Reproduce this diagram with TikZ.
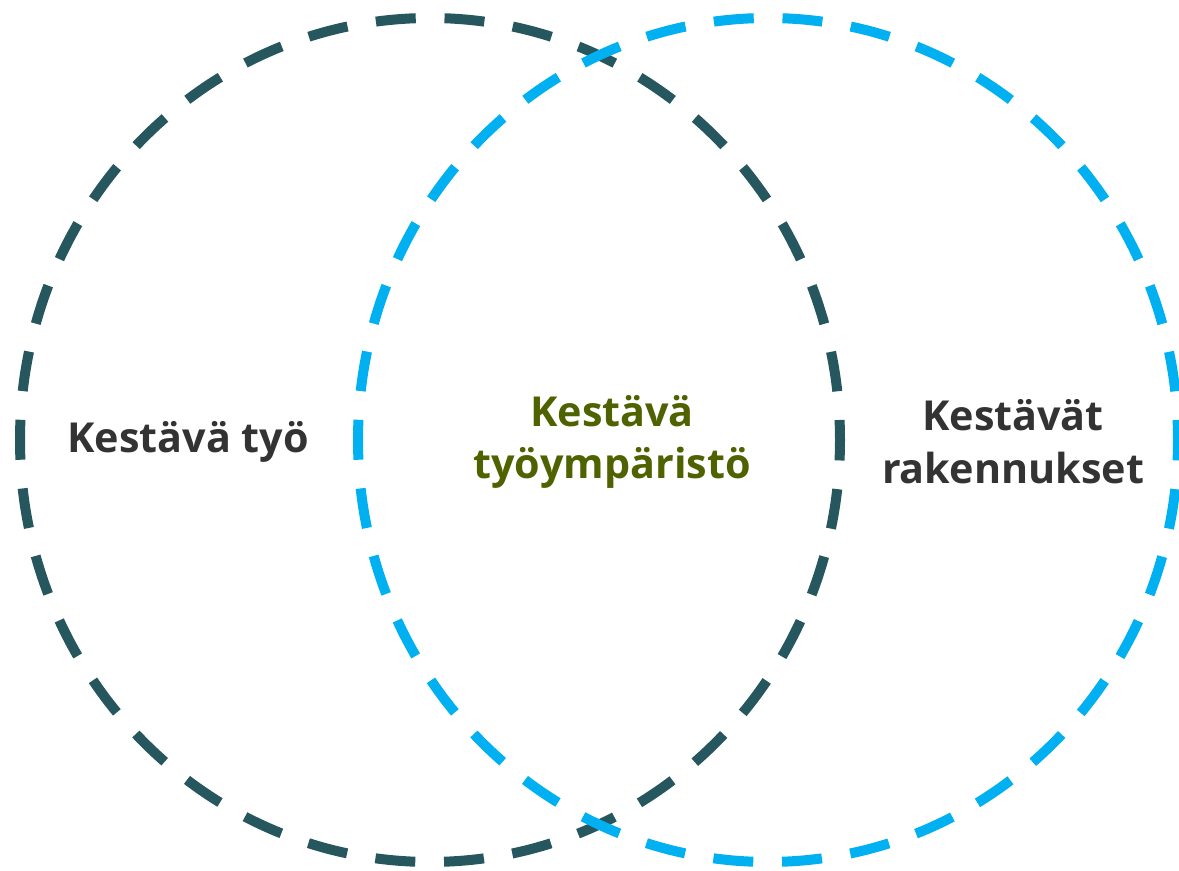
\documentclass[tikz,border=0pt]{standalone}
\usepackage{fontspec}
\setmainfont{Open Sans}
\definecolor{ringdark}{RGB}{38,87,94}
\definecolor{ringblue}{RGB}{0,176,240}
\definecolor{labeldark}{RGB}{51,51,51}
\definecolor{labelgreen}{RGB}{79,98,0}
\tikzset{
 ring/.style = {line width = 0.2cm, dash pattern = on 0.8cm off 0.5757cm, dash phase = 0.4cm},
 lbl/.style = {font = \bfseries\fontsize{23.5}{30}\selectfont, align = center, text = labeldark}
}

\begin{document}
\begin{tikzpicture}
\useasboundingbox (0,0) rectangle (23.58,17.42);
\draw[ring, ringdark] (8.6,8.62) ellipse [x radius = 8.2, y radius = 8.44];
\draw[ring, ringblue] (15.36,8.62) ellipse [x radius = 8.2, y radius = 8.44];
\node[lbl] (work) at (3.76,8.58) {Kestävä työ};
\node[lbl, text = labelgreen] (workplace) at (12.24,8.58) {Kestävä\\työympäristö};
\node[lbl] (buildings) at (20.26,8.58) {Kestävät\\rakennukset};
\end{tikzpicture}
\end{document}
